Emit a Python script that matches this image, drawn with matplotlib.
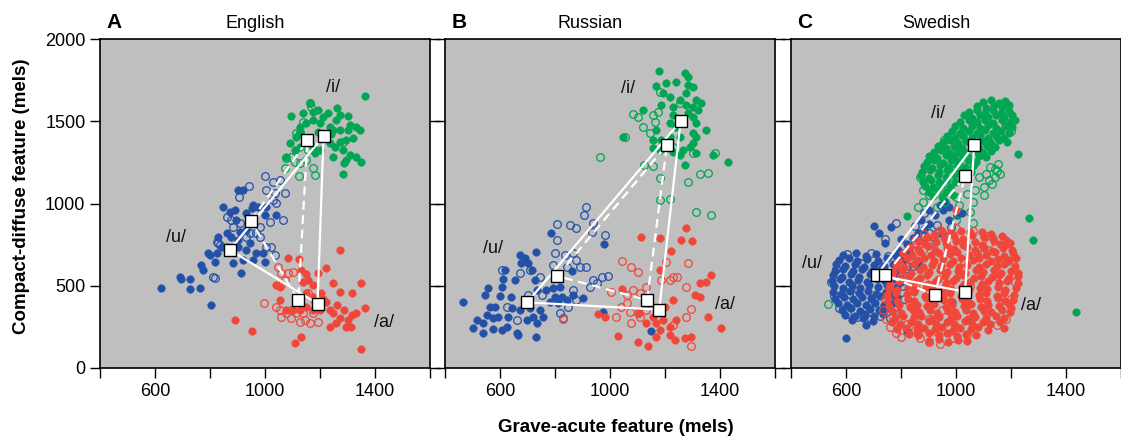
import numpy as np
import matplotlib
matplotlib.use("Agg")
import matplotlib.pyplot as plt

plt.rcParams['font.family'] = ['Liberation Sans', 'DejaVu Sans']

BLUE = '#2451a8'
GREEN = '#00a651'
RED = '#f0473a'
BG = '#bfbfbf'

# ---------------- English ----------------
en_i_filled = [(1096,1532),(1138,1548),(1162,1609),(1174,1559),(1193,1569),(1211,1528),(1229,1548),
               (1262,1579),(1274,1538),(1362,1654),(1126,1467),(1150,1488),(1174,1508),(1199,1488),
               (1235,1467),(1247,1447),(1271,1447),(1301,1447),(1332,1467),(1344,1447),(1114,1407),
               (1090,1366),(1108,1326),(1126,1346),(1174,1346),(1199,1326),(1235,1366),(1253,1346),
               (1271,1376),(1295,1386),(1320,1396),(1283,1326),(1308,1295),(1295,1265),(1289,1244),
               (1332,1285),(1350,1255),(1283,1180),(1180,1305),(1247,1285),(1259,1508),(1193,1437),
               (1126,1427),(1078,1285),(1300,1530),(1240,1420),(1160,1400),(1310,1480)]
en_i_open = [(1162,1609),(1168,1589),(1096,1285),(1078,1275),(1126,1244),(1124,1168),(1174,1214),
             (1180,1174),(1150,1265),(1126,1437),(1156,1326),(1283,1376),(1114,1427),(1138,1498),
             (1072,1214),(1108,1255)]
en_u_filled = [(620,485),(690,552),(696,540),(727,479),(729,540),(763,485),(775,596),(769,627),
               (793,698),(799,687),(802,383),(817,647),(824,698),(842,738),(848,981),(860,819),
               (872,951),(890,961),(902,1082),(920,1082),(932,941),(951,971),(957,991),(975,981),
               (999,930),(1041,930),(1005,981),(932,839),(908,829),(902,738),(920,657),(884,637),
               (914,576),(932,718),(957,657),(993,698),(999,647),(969,698),(945,758),(878,799),
               (860,738),(830,799),(896,900),(940,880),(900,780)]
en_u_open = [(1001,1170),(1029,1133),(1053,1143),(941,1107),(906,1042),(1005,1082),(1035,1062),
             (1041,1001),(1066,900),(1072,1062),(860,920),(878,900),(908,880),(957,880),(981,860),
             (945,819),(969,819),(830,758),(824,768),(836,748),(1005,738),(1023,738),(1035,687),
             (981,799),(932,799),(811,556),(817,546),(1017,890),(884,860),(1029,1022)]
en_a_filled = [(890,292),(953,227),(1274,718),(1084,667),(1124,661),(1132,596),(1148,572),(1156,535),
               (1138,525),(1174,505),(1193,576),(1223,606),(1247,515),(1271,465),(1317,455),(1350,515),
               (1362,363),(1316,323),(1301,292),(1271,302),(1247,333),(1235,353),(1223,404),(1205,455),
               (1199,353),(1174,353),(1150,373),(1126,353),(1102,353),(1078,353),(1053,414),(1053,495),
               (1235,252),(1295,252),(1313,252),(1259,272),(1132,191),(1108,150),(1350,116),(1289,353),
               (1332,333),(1150,455),(1174,434),(1041,505),(1210,420),(1180,400),(1260,380)]
en_a_open = [(995,394),(1047,616),(1059,576),(1084,576),(1102,586),(1059,505),(1072,535),(1041,373),
             (1053,353),(1078,333),(1096,302),(1126,282),(1144,292),(1162,272),(1193,282),(1114,333),
             (1138,333),(1174,333),(1059,313),(1096,353),(1126,434),(1156,455)]
en_means_filled = [(872,718),(1213,1411),(1191,392)]   # /u/, /i/, /a/
en_means_open = [(949,894),(1154,1384),(1121,412)]

# ---------------- Russian ----------------
ru_i_filled = [(1178,1807),(1271,1791),(1283,1771),(1205,1730),(1239,1741),(1169,1714),(1283,1720),
               (1302,1710),(1193,1670),(1217,1649),(1277,1670),(1253,1629),(1314,1629),(1332,1609),
               (1187,1599),(1229,1589),(1277,1599),(1302,1589),(1320,1568),(1229,1538),(1283,1548),
               (1302,1528),(1217,1487),(1241,1467),(1314,1487),(1350,1447),(1169,1447),(1156,1386),
               (1187,1386),(1217,1406),(1253,1406),(1302,1427),(1314,1406),(1290,1345),(1265,1325),
               (1156,1335),(1181,1325),(1229,1315),(1253,1295),(1374,1295),(1429,1250),(1271,1234),
               (1048,1402),(1120,1568),(1302,1366),(1314,1305)]
ru_i_open = [(1183,1680),(1084,1542),(1102,1528),(1156,1538),(1175,1558),(1162,1497),(1120,1463),
             (1144,1427),(1256,1609),(963,1281),(1123,1234),(1156,1228),(1302,1309),(1380,1309),
             (1326,1179),(1356,1187),(1283,1129),(1181,1153),(1183,1021),(1219,1027),(1311,946),
             (1368,930),(1054,1406),(1229,1345)]
ru_u_filled = [(464,399),(503,245),(537,215),(537,272),(545,444),(557,484),(551,322),(576,235),
               (582,373),(600,438),(606,495),(612,539),(618,596),(639,434),(642,363),(654,535),
               (672,687),(678,636),(691,667),(703,636),(715,596),(730,707),(727,535),(733,474),
               (709,363),(721,312),(733,272),(745,353),(666,201),(730,187),(660,211),(624,251),
               (594,312),(606,231),(630,312),(576,302),(769,474),(793,484),(818,495),(824,434),
               (799,434),(781,403),(812,393),(842,414),(866,444),(902,424),(860,592),(787,819),
               (979,754),(975,343),(1150,225),(564,373),(515,292),(672,353),(697,292),(757,312)]
ru_u_open = [(912,981),(905,930),(806,875),(854,869),(878,849),(939,879),(933,829),(806,778),
             (799,697),(836,687),(866,697),(981,809),(793,626),(842,616),(878,657),(890,616),
             (914,616),(939,535),(971,555),(993,559),(951,515),(927,495),(866,474),(878,414),
             (848,373),(818,332),(745,555),(709,596),(672,576),(606,596),(624,373),(660,292),
             (751,444),(703,444),(830,302)]
ru_a_filled = [(1114,798),(1181,788),(1277,853),(1259,778),(1298,772),(1221,711),(1368,565),
               (1350,525),(1326,515),(1308,444),(1326,434),(1045,478),(957,326),(981,312),
               (1029,197),(1102,160),(1138,134),(1132,272),(1169,272),(1181,231),(1169,191),
               (1217,201),(1235,170),(1271,180),(1296,191),(1356,312),(1404,245),(1229,414),
               (1217,251),(1193,292),(1199,373),(1156,312),(1241,292),(1106,332),(1181,596)]
ru_a_open = [(1045,653),(1078,616),(1102,586),(1205,646),(1283,640),(1229,555),(1217,535),
             (1244,555),(1187,535),(1277,495),(1005,464),(1060,444),(1084,474),(1108,454),
             (1132,495),(1041,373),(1072,343),(1102,332),(1132,353),(1078,272),(1108,312),
             (1023,312),(1230,262),(1296,357),(1277,312),(1296,134),(830,296),(1060,393)]
ru_means_filled = [(699,399),(1257,1501),(1179,355)]
ru_means_open = [(808,559),(1207,1356),(1135,413)]

# ---------------- Swedish ----------------
sw_u_filled = [(588,684),(637,699),(671,680),(708,693),
               (574,657),(611,668),(640,650),(677,663),(715,652),(748,667),
               (565,631),(598,619),(632,634),(666,615),(701,629),(737,618),(770,633),
               (559,592),(590,604),(626,587),(657,601),(694,589),(727,603),(760,586),(789,598),
               (553,566),(584,553),(618,569),(649,556),(686,571),(716,550),(752,564),(781,554),
               (549,527),(578,541),(611,524),(645,536),(675,522),(711,539),(743,527),(778,540),(800,522),
               (556,498),(588,487),(620,502),(652,489),(684,505),(718,491),(750,506),(784,494),
               (551,463),(582,452),(613,467),(648,455),(679,469),(710,450),(744,464),(776,455),
               (561,421),(594,434),(627,418),(659,432),(692,423),(724,437),(758,420),(787,431),
               (571,394),(605,383),(639,397),(671,381),(706,395),(739,386),(771,398),
               (585,352),(619,364),(652,348),(686,361),(719,350),(750,363),
               (598,325),(633,315),(668,329),(703,318),(735,330),
               (622,291),(660,302),(697,288),
               (790,720),(822,752),(801,782),(842,792),(861,822),(882,848),(903,878),(871,902),
               (922,928),(951,962),(902,958),(941,990),(976,902),(832,702),(762,858),(721,822),
               (702,862),(742,762),(781,682),(812,662),
               (672,262),(600,181),(821,225),(987,399),(860,636),(950,820),(975,981),(1023,940),
               (1005,930),(960,1010)]
sw_u_open = [(558,440),(546,520),(575,362),(602,330),(640,308),(690,300),(722,318),(760,302),
             (792,332),(812,420),(802,500),(822,560),(562,602),(602,692),(692,702),(752,682),
             (742,782),(802,742),(852,762),(882,802),(852,862),(902,822),(932,872),(882,942),
             (822,622),(782,882),(702,422),(642,472),(830,480),(845,620),(905,760),(930,820),
             (980,860),(655,640),(720,560),(610,450),(680,380)]
sw_i_filled = [(1098,1618),(1127,1628),(1158,1611),(1178,1622),
               (1076,1594),(1108,1583),(1137,1597),(1166,1586),(1193,1599),
               (1049,1558),(1075,1570),(1106,1553),(1133,1566),(1163,1551),(1191,1563),
               (1030,1535),(1057,1522),(1088,1538),(1116,1525),(1147,1540),(1176,1523),(1204,1536),
               (1016,1498),(1046,1509),(1077,1493),(1104,1506),(1136,1491),(1166,1505),(1196,1494),(1213,1508),
               (998,1471),(1027,1459),(1058,1474),(1087,1462),(1117,1477),(1146,1460),(1177,1473),(1204,1463),
               (985,1438),(1014,1428),(1046,1443),(1075,1431),(1106,1446),(1134,1427),(1165,1441),(1191,1430),
               (968,1409),(996,1398),(1027,1413),(1057,1400),(1087,1415),(1117,1397),(1147,1410),(1176,1401),
               (951,1372),(977,1385),(1008,1369),(1038,1382),(1068,1367),(1097,1381),(1128,1370),(1157,1384),(1186,1373),
               (934,1348),(962,1338),(992,1352),(1022,1340),(1053,1355),(1083,1337),(1112,1351),(1142,1341),
               (919,1312),(946,1323),(977,1308),(1007,1321),(1037,1306),(1068,1320),(1097,1309),(1127,1322),
               (903,1289),(931,1278),(962,1293),(992,1281),(1022,1296),(1052,1279),(1082,1290),(1110,1280),
               (893,1253),(921,1264),(952,1249),(982,1262),(1012,1251),(1043,1265),(1072,1252),
               (884,1229),(912,1218),(943,1233),(973,1221),(1003,1236),(1032,1219),(1062,1230),
               (878,1193),(906,1204),(937,1189),(967,1202),(997,1191),(1027,1205),(1055,1194),
               (874,1169),(902,1158),(933,1173),(963,1161),(993,1176),(1021,1162),
               (879,1133),(908,1144),(939,1129),(969,1142),(998,1131),
               (889,1108),(918,1098),(949,1113),(979,1101),
               (903,1072),(933,1084),(963,1069),
               (918,1047),(950,1039),(988,1052),
               (1225,1299),(1265,910),(1280,778),(1435,343),(820,926)]
sw_i_open = [(1084,1160),(1110,1180),(1140,1160),(1130,1120),(1100,1100),(1070,1080),(1040,1060),
             (1000,1040),(960,1010),(930,980),(1010,990),(1060,1010),(1100,1050),(1150,1200),
             (1152,1240),(1125,1220),(958,1387),(1199,1440),(1050,950),(900,1050),(880,1010),
             (860,980),(1000,900),(1060,880),(533,389),(870,1160),(880,1080),(1120,1140),
             (1160,1180),(1140,1210)]
sw_a_filled = [(948,832),(979,821),(1018,835),(1052,824),(1093,829),(1128,812),
               (893,798),(921,809),(958,790),(991,803),(1027,787),(1058,806),(1101,795),(1133,788),(1166,801),(1182,778),
               (866,771),(889,752),(929,768),(962,757),(1001,773),(1027,750),(1069,767),(1094,748),(1138,770),(1160,755),(1195,762),
               (832,733),(861,724),(899,739),(925,716),(967,731),(994,721),(1041,737),(1070,719),(1103,732),(1131,714),(1172,729),(1203,718),
               (806,697),(839,688),(869,703),(910,684),(937,699),(978,690),(1003,705),(1046,686),(1077,700),(1110,689),(1142,704),(1176,683),(1208,697),
               (791,652),(823,667),(857,655),(885,670),(921,648),(954,664),(988,651),(1019,668),(1061,656),(1085,671),(1126,649),(1152,662),(1192,654),(1218,668),
               (781,628),(812,617),(848,632),(879,614),(913,629),(945,619),(977,635),(1012,611),(1041,626),(1083,615),(1108,631),(1149,618),(1174,633),(1213,619),
               (772,584),(804,597),(837,579),(869,593),(902,586),(941,598),(968,581),(1008,592),(1032,577),(1072,595),(1098,583),(1139,596),(1164,578),(1201,591),(1226,580),
               (765,559),(797,547),(829,562),(870,550),(894,565),(933,544),(960,558),(999,549),(1025,563),(1066,546),(1090,560),(1131,552),(1157,566),(1191,545),(1227,557),
               (759,512),(791,526),(831,517),(856,529),(897,511),(922,524),(962,515),(988,530),(1028,509),(1052,522),(1093,513),(1118,528),(1158,516),(1184,527),(1224,514),
               (756,489),(787,477),(826,491),(852,480),(891,494),(918,473),(958,487),(983,478),(1022,492),(1049,474),(1088,489),(1114,479),(1153,493),(1179,476),(1219,486),
               (749,442),(781,456),(821,447),(847,459),(887,438),(912,452),(952,444),(978,457),(1017,439),(1043,453),(1083,445),(1109,458),(1149,440),(1175,454),(1212,446),
               (753,418),(784,406),(824,421),(849,409),(890,423),(915,402),(955,416),(980,407),(1020,422),(1045,404),(1086,418),(1111,408),(1151,423),(1177,405),(1207,415),
               (758,375),(792,386),(831,371),(857,384),(896,377),(921,389),(962,372),(987,385),(1028,374),(1053,387),(1092,370),(1118,383),(1158,376),(1192,388),
               (768,348),(801,337),(842,351),(866,340),(907,354),(932,333),(972,347),(997,338),(1038,352),(1062,335),(1103,349),(1128,339),(1168,353),(1196,341),
               (777,302),(809,316),(849,307),(874,318),(914,299),(939,313),(980,304),(1005,317),(1045,298),(1070,312),(1110,303),(1144,315),(1176,306),
               (768,279),(797,268),(836,282),(862,270),(902,284),(927,265),(967,278),(992,269),(1032,283),(1057,266),(1097,279),(1124,270),(1160,281),
               (786,236),(818,246),(858,232),(884,244),(924,238),(950,249),(990,231),(1015,243),(1055,235),(1080,247),(1118,234),
               (829,209),(861,198),(902,211),(937,200),(968,214),(1003,196),(1037,208),(1072,199),
               (903,166),(938,176),(972,160),(1008,172),(1041,163),
               (999,961),(1187,752),(1199,367),(1175,241)]
sw_a_open = [(733,353),(745,300),(760,250),(782,212),(800,190),(742,420),(762,560),(792,620),
             (822,700),(852,780),(882,815),(940,840),(1000,850),(1060,830),(1110,805),(870,180),
             (900,160),(940,145),(860,205),(900,300),(950,350),(1000,250),(1050,300),(1100,400),
             (760,480),(780,330),(820,270),(850,230),(1150,260),(1180,300),(1200,420),(1215,520),
             (1190,650),(1100,700),(960,600),(880,500),(830,400),(1050,500),(1150,560),(930,220),
             (990,180),(1040,200),(800,560),(840,640),(880,720),(920,780),(970,730),(1030,650),
             (1120,760)]
sw_means_filled = [(712,565),(1066,1356),(1033,464)]
sw_means_open = [(743,565),(1033,1167),(923,444)]

panels = [
    dict(letter='A', title='English', tx=0.47,
         u=(en_u_filled, en_u_open), i=(en_i_filled, en_i_open), a=(en_a_filled, en_a_open),
         mf=en_means_filled, mo=en_means_open,
         lab={'/i/': (1246, 1708), '/u/': (676, 796), '/a/': (1434, 274)}),
    dict(letter='B', title='Russian', tx=0.44,
         u=(ru_u_filled, ru_u_open), i=(ru_i_filled, ru_i_open), a=(ru_a_filled, ru_a_open),
         mf=ru_means_filled, mo=ru_means_open,
         lab={'/i/': (1066, 1700), '/u/': (576, 728), '/a/': (1417, 383)}),
    dict(letter='C', title='Swedish', tx=0.44,
         u=(sw_u_filled, sw_u_open), i=(sw_i_filled, sw_i_open), a=(sw_a_filled, sw_a_open),
         mf=sw_means_filled, mo=sw_means_open,
         lab={'/i/': (936, 1548), '/u/': (476, 636), '/a/': (1271, 377)}),
]

fig = plt.figure(figsize=(11.21, 4.37), dpi=100)
lefts = [100, 445, 791]
W, H = 1121, 437
ms = 5.5

for k, p in enumerate(panels):
    ax = fig.add_axes([lefts[k] / W, (H - 368) / H, 330 / W, 329 / H])
    ax.set_facecolor(BG)

    for key, col in (('u', BLUE), ('i', GREEN), ('a', RED)):
        filled, opened = p[key]
        f = np.array(filled)
        o = np.array(opened)
        ax.plot(o[:, 0], o[:, 1], 'o', ms=ms, mfc='none', mec=col, mew=0.9, zorder=2)
        ax.plot(f[:, 0], f[:, 1], 'o', ms=ms, mfc=col, mec=col, mew=0.3, zorder=2)

    mf = np.array(p['mf'] + p['mf'][:1])
    mo = np.array(p['mo'] + p['mo'][:1])
    ax.plot(mf[:, 0], mf[:, 1], '-', color='white', lw=1.6, zorder=3)
    ax.plot(mo[:, 0], mo[:, 1], '--', color='white', lw=1.6, dashes=(4, 2.5), zorder=3)
    ax.plot(mf[:-1, 0], mf[:-1, 1], 's', ms=8.5, mfc='white', mec='black', mew=1.0, ls='none', zorder=4)
    ax.plot(mo[:-1, 0], mo[:-1, 1], 's', ms=8.5, mfc='white', mec='black', mew=1.0, ls='none', zorder=4)

    for txt, (x, y) in p['lab'].items():
        ax.text(x, y, txt, fontsize=13, ha='center', va='center', color='#111111')

    ax.set_xlim(400, 1600)
    ax.set_ylim(0, 2000)
    ax.set_xticks([400, 600, 800, 1000, 1200, 1400, 1600])
    ax.set_xticklabels(['', '600', '', '1000', '', '1400', ''])
    ax.set_yticks([0, 500, 1000, 1500, 2000])
    ax.tick_params(direction='out', length=7, width=1, labelsize=13, right=True, pad=3.5)
    if k == 0:
        ax.set_yticklabels(['0', '500', '1000', '1500', '2000'])
    else:
        ax.set_yticklabels([])
    for s in ax.spines.values():
        s.set_linewidth(1.2)

    ax.text(0.02, 1.02, p['letter'], transform=ax.transAxes, fontsize=15,
            fontweight='bold', ha='left', va='bottom')
    ax.text(p['tx'], 1.02, p['title'], transform=ax.transAxes, fontsize=13,
            ha='center', va='bottom')

fig.text(22 / W, 0.55, 'Compact-diffuse feature (mels)', rotation=90, fontsize=13.5,
         fontweight='bold', ha='center', va='center')
fig.text(616 / W, 1 - 428 / H, 'Grave-acute feature (mels)', fontsize=13.5,
         fontweight='bold', ha='center', va='center')

fig.savefig('out.png', dpi=100)
